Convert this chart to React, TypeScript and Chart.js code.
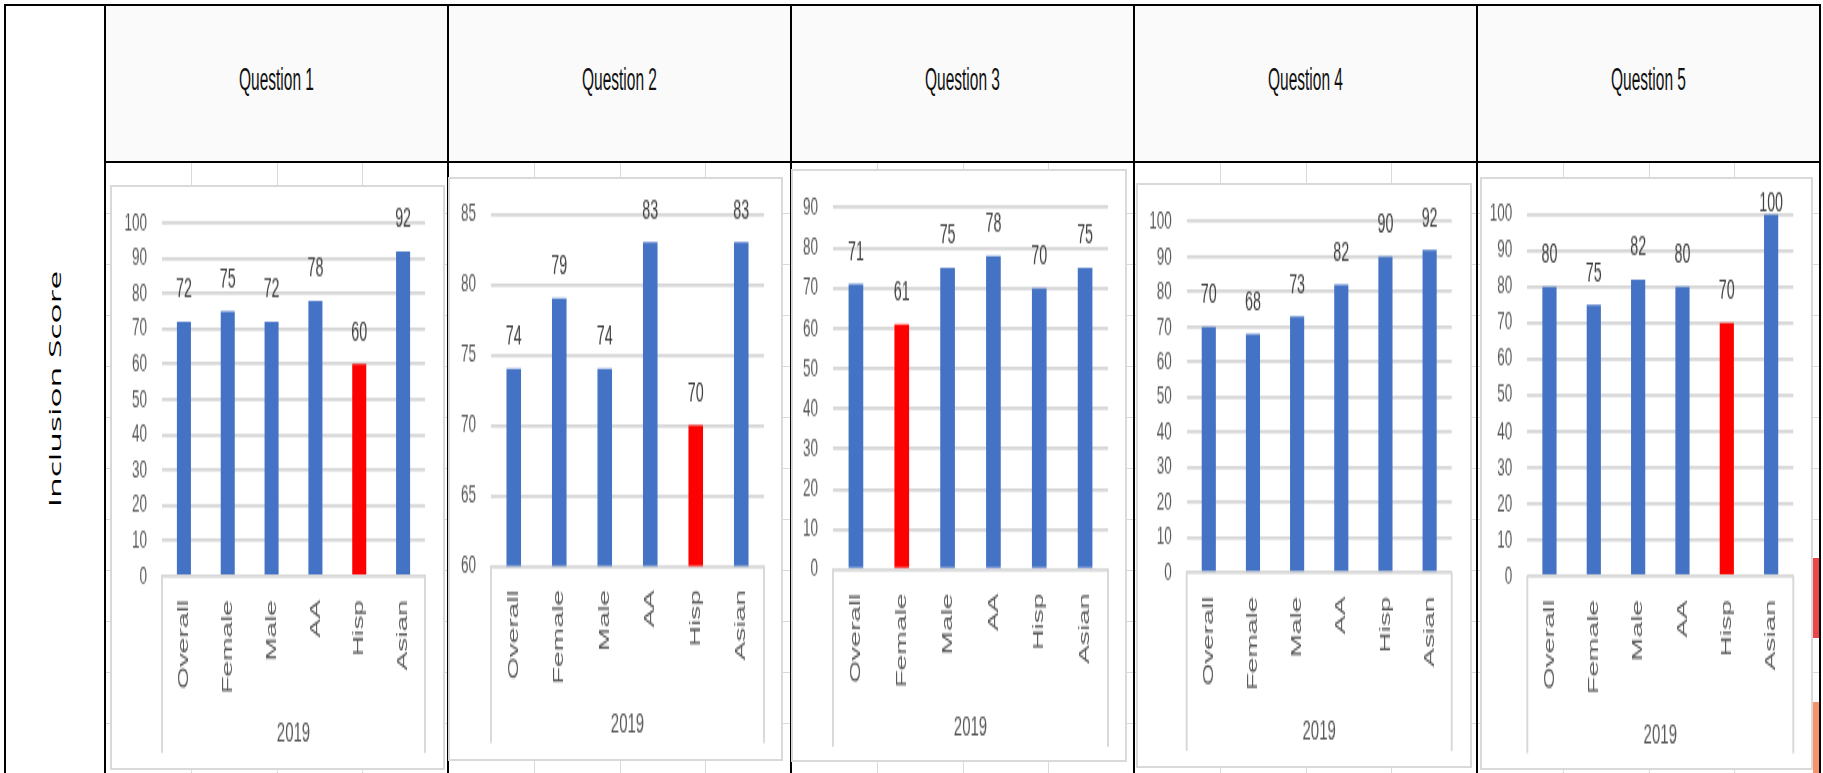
import React, { useEffect, useRef } from 'react';
import { Chart, registerables } from 'chart.js';

Chart.register(...registerables);

// ---------- data ----------
const categories = ['Overall', 'Female', 'Male', 'AA', 'Hisp', 'Asian'];
const yearLabel = '2019';
const sideLabel = 'Inclusion Score';
const questionTitles = ['Question 1', 'Question 2', 'Question 3', 'Question 4', 'Question 5'];
const q1Scores = [72, 75, 72, 78, 60, 92];
const q2Scores = [74, 79, 74, 83, 70, 83];
const q3Scores = [71, 61, 75, 78, 70, 75];
const q4Scores = [70, 68, 73, 82, 90, 92];
const q5Scores = [80, 75, 82, 80, 70, 100];
const highlightedGroup = ['Hisp', 'Hisp', 'Female', '', 'Hisp'];
const axisMin = [0, 60, 0, 0, 0];
const axisMax = [100, 85, 90, 100, 100];
const axisStep = [10, 5, 10, 10, 10];
const allScores = [q1Scores, q2Scores, q3Scores, q4Scores, q5Scores];

// ---------- styling / layout ----------
const FONT = '"Liberation Sans", Arial, sans-serif';
const BLUE = '#4472C4';
const RED = '#FF0000';
const STRETCH = 1.9;
const colEdges = [105, 448, 791, 1134, 1477, 1820];

type Box = { x: number; y: number; w: number; h: number; pl: number; pr: number; pt: number; pb: number; cb: number };
const chartBoxes: Box[] = [
  { x: 110, y: 185, w: 335, h: 585, pl: 52, pr: 315, pt: 38, pb: 391, cb: 568 },
  { x: 448, y: 177, w: 335, h: 584, pl: 43, pr: 316, pt: 37, pb: 389, cb: 566 },
  { x: 791, y: 169, w: 336, h: 593, pl: 42, pr: 317, pt: 38.7, pb: 400.5, cb: 577.7 },
  { x: 1136, y: 183, w: 336, h: 585, pl: 50.7, pr: 315.7, pt: 38.7, pb: 389.5, cb: 567.7 },
  { x: 1480, y: 177, w: 333, h: 593, pl: 47.3, pr: 313.3, pt: 37.3, pb: 399, cb: 576.3 },
];

Chart.defaults.font.family = FONT;

const valueLabelPlugin = {
  id: 'valueLabels',
  afterDatasetsDraw(chart: any, _args: any, opts: any) {
    const { ctx } = chart;
    const meta = chart.getDatasetMeta(0);
    const values = chart.data.datasets[0].data;
    ctx.save();
    ctx.font = `14.3px ${FONT}`;
    ctx.fillStyle = '#404040';
    ctx.textAlign = 'center';
    ctx.textBaseline = 'alphabetic';
    meta.data.forEach((bar: any, i: number) => {
      const y = Math.max(bar.y - opts.offset, opts.minBaseline);
      ctx.fillText(String(values[i]), bar.x, y);
    });
    ctx.restore();
  },
};

const categoryFramePlugin = {
  id: 'categoryFrame',
  afterDraw(chart: any) {
    const { ctx, chartArea } = chart;
    const xs = chart.scales.x;
    ctx.save();
    ctx.strokeStyle = '#d9d9d9';
    ctx.lineWidth = 2;
    ctx.beginPath();
    ctx.moveTo(chartArea.left, chartArea.bottom);
    ctx.lineTo(chartArea.left, xs.bottom);
    ctx.moveTo(chartArea.right, chartArea.bottom);
    ctx.lineTo(chartArea.right, xs.bottom);
    ctx.stroke();
    ctx.restore();
  },
};

function QuestionChart({ index }: { index: number }) {
  const ref = useRef<HTMLCanvasElement>(null);
  const box = chartBoxes[index];
  const ph = Math.round(box.h / STRETCH);
  const k = box.h / ph;

  useEffect(() => {
    const canvas = ref.current!;
    const values = allScores[index];
    const chart = new Chart(canvas, {
      type: 'bar',
      data: {
        labels: categories,
        datasets: [
          {
            data: values,
            backgroundColor: categories.map((c) => (c === highlightedGroup[index] ? RED : BLUE)),
            borderWidth: 0,
            categoryPercentage: 1,
            barPercentage: 0.32,
          },
        ],
      },
      options: {
        responsive: false,
        animation: false,
        devicePixelRatio: 1,
        layout: {
          padding: {
            left: 0,
            right: box.w - box.pr,
            top: box.pt / k,
            bottom: (box.h - box.cb) / k,
          },
        },
        plugins: {
          legend: { display: false },
          tooltip: { enabled: false },
          valueLabels: { offset: 24 / k, minBaseline: 35 / k },
        } as any,
        scales: {
          x: {
            grid: { display: false, drawTicks: false },
            border: { display: true, color: '#d9d9d9', width: 1.3 },
            ticks: {
              autoSkip: false,
              minRotation: 90,
              maxRotation: 90,
              padding: 24 / k,
              color: '#595959',
              font: { family: FONT, size: 14.8 },
            },
            title: {
              display: true,
              text: yearLabel,
              color: '#595959',
              font: { family: FONT, size: 15 },
              padding: { top: 0, bottom: 18.6 / k - 9 },
            },
            afterFit: (s: any) => {
              s.height = (box.cb - box.pb) / k;
              s.paddingLeft = 0;
              s.paddingRight = 0;
            },
          },
          y: {
            min: axisMin[index],
            max: axisMax[index],
            ticks: {
              stepSize: axisStep[index],
              autoSkip: false,
              padding: 15,
              color: '#595959',
              font: { family: FONT, size: 13.5 },
            },
            grid: { color: '#d6d6d6', lineWidth: 1.8, drawTicks: false },
            border: { display: false },
            afterFit: (s: any) => {
              s.width = box.pl;
              s.paddingTop = 0;
              s.paddingBottom = 0;
            },
          },
        },
      },
      plugins: [valueLabelPlugin, categoryFramePlugin],
    } as any);
    return () => chart.destroy();
  }, [index]);

  return (
    <>
      <div
        style={{
          position: 'absolute',
          left: box.x,
          top: box.y,
          width: box.w,
          height: box.h,
          border: '2px solid #d9d9d9',
          boxSizing: 'border-box',
          background: '#ffffff',
        }}
      />
      <canvas
        ref={ref}
        width={box.w}
        height={ph}
        style={{ position: 'absolute', left: box.x, top: box.y, width: box.w, height: box.h }}
      />
    </>
  );
}

export default function App() {
  const gridV: number[] = [];
  for (let c = 0; c < 5; c++) for (let n = 1; n <= 3; n++) gridV.push(colEdges[c] + 85.75 * n);
  const gridH: number[] = [];
  for (let n = 1; n <= 11; n++) gridH.push(162 + 51 * n);

  return (
    <div
      style={{
        position: 'fixed',
        left: 0,
        top: 0,
        width: 1823,
        height: 773,
        overflow: 'hidden',
        background: '#ffffff',
      }}
    >
      {/* header fills */}
      {questionTitles.map((_, i) => (
        <div
          key={'hf' + i}
          style={{
            position: 'absolute',
            left: colEdges[i],
            top: 5,
            width: colEdges[i + 1] - colEdges[i],
            height: 157,
            background: '#fafafa',
          }}
        />
      ))}
      {/* spreadsheet grid */}
      {gridV.map((x, i) => (
        <div key={'gv' + i} style={{ position: 'absolute', left: Math.round(x), top: 163, width: 1, height: 610, background: '#dadada' }} />
      ))}
      {gridH.map((y, i) => (
        <div key={'gh' + i} style={{ position: 'absolute', left: 105, top: y, width: 1715, height: 1, background: '#dadada' }} />
      ))}
      {/* table borders */}
      <div style={{ position: 'absolute', left: 4, top: 4, width: 1817, height: 2, background: '#000' }} />
      <div style={{ position: 'absolute', left: 4, top: 4, width: 2, height: 769, background: '#000' }} />
      {colEdges.map((x, i) => (
        <div key={'cb' + i} style={{ position: 'absolute', left: x - 1, top: 4, width: 2, height: 769, background: '#000' }} />
      ))}
      <div style={{ position: 'absolute', left: 105, top: 161, width: 1716, height: 2, background: '#000' }} />
      {/* header titles */}
      {questionTitles.map((t, i) => (
        <div
          key={'ht' + i}
          style={{
            position: 'absolute',
            left: colEdges[i],
            top: 68,
            width: colEdges[i + 1] - colEdges[i],
            height: 24,
            lineHeight: '24px',
            textAlign: 'center',
            fontFamily: FONT,
            fontSize: 15.5,
            color: '#111',
            transform: 'scaleY(2.0)',
            whiteSpace: 'nowrap',
          }}
        >
          {t}
        </div>
      ))}
      {/* side label */}
      <div
        style={{
          position: 'absolute',
          left: 55 - 110,
          top: 389 - 12,
          width: 220,
          height: 24,
          lineHeight: '24px',
          textAlign: 'center',
          fontFamily: '"Open Sans", sans-serif',
          fontSize: 16,
          color: '#000',
          transform: 'rotate(-90deg) scaleX(2.1)',
          whiteSpace: 'nowrap',
        }}
      >
        {sideLabel}
      </div>
      {/* neighbouring chart sliver at right edge */}
      <div style={{ position: 'absolute', left: 1813, top: 558, width: 6, height: 80, background: '#e9474c' }} />
      <div style={{ position: 'absolute', left: 1813, top: 702, width: 6, height: 71, background: '#f6926c' }} />
      {/* charts */}
      {questionTitles.map((_, i) => (
        <QuestionChart key={'qc' + i} index={i} />
      ))}
    </div>
  );
}
